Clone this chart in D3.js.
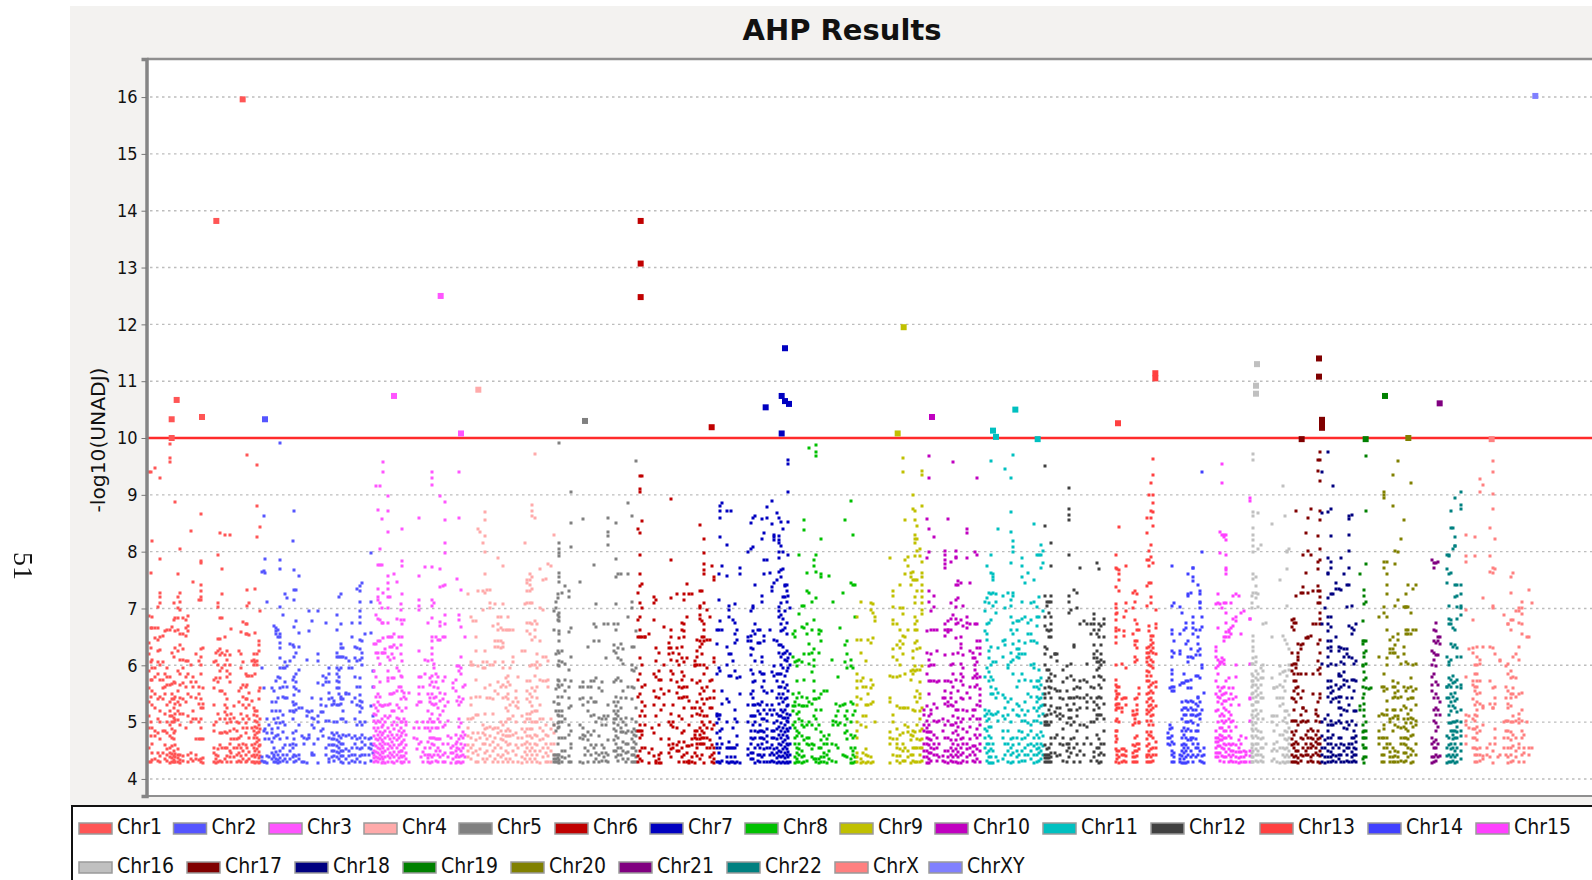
<!DOCTYPE html>
<html>
<head>
<meta charset="utf-8">
<title>AHP Results</title>
<script src="https://cdn.jsdelivr.net/npm/d3@7"></script>
<style>
	html, body { margin: 0; padding: 0; background: #fff; overflow: hidden; }
	svg { display: block; filter: blur(0.35px); }
	text { fill: #111; }
</style>
</head>
<body>
<div id="chart"></div>
<script>

var chrNames = ["Chr1","Chr2","Chr3","Chr4","Chr5","Chr6","Chr7","Chr8","Chr9","Chr10","Chr11","Chr12","Chr13","Chr14","Chr15","Chr16","Chr17","Chr18","Chr19","Chr20","Chr21","Chr22","ChrX","ChrXY"];

var chrColors = ["#ff5555","#5555ff","#ff55ff","#ffaaaa","#808080","#c00000","#0000c0","#00c000","#c0c000","#c000c0","#00c0c0","#404040","#ff4040","#4040ff","#ff40ff","#c0c0c0","#800000","#000080","#008000","#808000","#800080","#008080","#ff8080","#8080ff"];

// start of each chromosome's block on the genome axis
var chrOffset = [0,0,0,0,0,1470,1470,1470,1470,1470,1470,1470,2910,2910,2910,2910,2910,2910,2910,2910,2910,2910,2910,2910];

var genomeLength = 4386;
var threshold = 10;
var yTicks = [4,5,6,7,8,9,10,11,12,13,14,15,16];

// SNPs above the red line, drawn bigger: [chromosome index, genome position, -log10(p)]
var topHits = [
	[0,338,15.96],[0,259,13.82],[0,140,10.67],[0,125,10.33],[0,216,10.37],[0,125,10.0],
	[1,405,10.33],
	[2,792,10.74],[2,932,12.5],[2,993,10.08],
	[3,1045,10.85],
	[4,1365,10.3],
	[5,1532,13.82],[5,1532,13.07],[5,1532,12.48],[5,1745,10.19],
	[6,1965,11.58],[6,1907,10.54],[6,1955,10.74],[6,1965,10.65],[6,1977,10.6],[6,1955,10.08],
	[8,2321,11.95],[8,2303,10.08],
	[9,2406,10.37],
	[10,2589,10.13],[10,2598,10.02],[10,2656,10.5],[10,2723,9.98],
	[12,2964,10.26],[12,3076,11.14],[12,3076,11.05],
	[15,3381,11.3],[15,3378,10.92],[15,3378,10.78],
	[16,3567,11.4],[16,3567,11.08],[16,3576,10.32],[16,3576,10.24],[16,3576,10.18],[16,3515,9.98],
	[18,3765,10.74],[18,3707,9.98],
	[19,3835,10.0],
	[20,3929,10.61],
	[22,4085,9.98],
	[23,4216,16.02]
];

// small points, one list per map column: [position in block, values...]
var chr1Cols = [
	[58,4.3,4.55,4.9,5.1,5.35,5.6,5.9,6.2,6.4,6.87,9.4],
	[62,4.3,4.75,5.0,5.45,5.75,6.05,6.3,6.65,7.62,9.41],
	[67,4.34,4.45,4.62,4.9,5.3,5.55,5.75,5.95,6.1,6.65,6.85,8.19],
	[76,4.35,4.75,4.85,5.25,5.5,5.8,5.95,6.48,6.65,9.47],
	[85,4.32,4.45,4.8,5.05,5.4,5.85,6.05,6.25,6.45,6.65,7.02],
	[91,4.3,4.4,4.7,5.0,5.2,5.45,5.75,6.0,6.27,6.5,7.1,7.2,7.28,7.87,9.3],
	[99,4.45,4.85,5.4,5.6,5.75,6.05,6.52],
	[106,4.35,4.6,4.85,5.15,5.5,5.62,5.85,6.6],
	[112,4.32,4.42,4.52,4.8,5.0,5.3,5.66,5.8,5.95,6.62],
	[121,4.28,4.38,4.45,4.55,4.75,4.95,5.1,5.2,5.35,5.65,5.8,6.62,9.57,9.65,9.9],
	[126,4.3,4.36,4.44,4.58,4.72,4.88,5.0,5.1,5.4,5.5,5.67,6.22,6.68],
	[131,4.3,4.34,4.4,4.5,4.7,4.8,5.0,5.08,5.25,5.4,5.7,6.15,6.8,7.1],
	[135,4.3,4.38,4.44,4.6,4.85,5.04,5.15,5.32,5.45,5.68,6.3,6.6,6.84,8.87],
	[144,4.3,4.36,4.42,4.52,5.04,5.2,5.35,5.55,5.9,6.25,6.62,6.84,7.0,7.2,7.6],
	[150,4.28,4.34,4.42,4.95,5.15,5.3,5.42,5.65,5.85,6.1,6.35,6.55,6.98,7.12,7.28,8.05],
	[159,4.32,4.4,5.15,5.4,5.68,5.95,6.1,6.28,6.55,6.83],
	[168,4.9,5.35,5.62,5.8,6.08,6.52,6.66,6.8],
	[175,4.3,4.42,5.1,5.5,5.85,6.08,6.6,6.7,6.87],
	[183,4.35,4.45,5.0,5.45,5.7,6.0,8.36],
	[188,4.32,5.05,5.2,5.62,5.8,7.46],
	[197,4.35,4.42,4.7,5.05,5.42,5.7,6.2],
	[206,4.33,4.7,5.0,5.32,5.5,5.62,6.08,7.15],
	[213,4.3,4.35,4.7,4.9,5.05,5.25,5.4,5.85,6.0,6.15,6.28,7.15,7.2,7.3,7.42,7.8,7.83,8.67],
	[220,4.28,4.36,4.7,5.25,5.32,5.6,6.3],
	[253,4.3,4.45,4.55,4.85,4.95,5.3,5.6,5.75,6.05],
	[258,4.28,4.35,4.42,5.0,5.78,6.08,6.22],
	[265,4.3,4.4,4.52,5.15,5.7,6.0,6.25,6.47,7.03,7.1,7.95],
	[270,4.32,4.6,4.8,5.05,5.55,5.78,5.9,6.18,6.28,6.47,6.84,8.33],
	[277,4.3,4.55,4.8,5.55,5.95,6.22,6.84,7.25,7.7],
	[285,4.35,4.55,4.82,5.05,5.18,5.3,5.5,6.0,6.18,6.5,8.3],
	[292,4.3,4.4,4.55,4.8,4.98,5.12,5.25,5.4,5.8,5.9,6.1,6.25],
	[299,4.38,4.5,4.62,4.85,5.05,5.7,5.85,6.0,6.18,8.29],
	[304,4.3,4.45,4.7,5.0,5.15,6.64],
	[312,4.38,4.55,4.7,4.88,5.08,5.28],
	[320,4.3,4.42,4.55,4.7,4.85,5.0],
	[327,4.32,4.45,4.6,4.72,4.98,5.35,5.55,6.25],
	[333,4.3,4.4,4.55,4.75,5.15,5.6,5.95,6.2,6.58],
	[340,4.35,4.5,4.62,4.9,5.05,5.3,5.45,5.65,6.05,6.77],
	[348,4.3,4.42,4.6,4.8,4.98,5.25,5.4,5.62,5.85,6.55,6.72],
	[352,4.32,4.55,4.9,5.1,5.4,5.65,5.82,6.55,6.73,7.05,7.32,9.7],
	[358,4.35,4.48,4.72,5.05,5.3,5.52,5.82,6.54,7.1],
	[367,4.3,4.4,4.6,4.9,5.38,5.82,6.08],
	[372,4.3,4.42,4.55,4.72,4.85,5.12,5.25,6.0,6.1,6.2],
	[376,4.28,4.38,4.5,4.62,4.78,4.92,5.02,5.2,5.85,6.05,6.57,7.35],
	[381,4.3,4.42,4.52,4.65,4.72,4.8,4.9,5.0,5.1,5.2,6.0,6.08,6.2,8.25,8.8,9.53],
	[386,4.28,4.36,4.48,4.58,4.68,4.82,4.95,5.4,5.55,6.25,6.35,6.43],
	[391,4.3,4.4,4.6,4.88,5.05,5.6,6.95,8.43]
];
var chr2Cols = [
	[396,4.32,4.38,5.95,7.65],
	[401,4.3,4.85,5.6,7.66,8.63],
	[405,4.3,4.7,4.88,7.62,7.87],
	[411,4.28,4.4,4.8,5.05,7.12],
	[417,4.38,4.7,4.95],
	[425,4.35,4.45,4.65,4.8,4.88,5.2,5.35,5.6],
	[431,4.3,4.38,4.42,4.55,4.72,5.05,5.55,6.7],
	[437,4.3,4.35,4.48,4.75,4.98,5.2,5.35,5.72,6.55,6.6,6.65],
	[443,4.28,4.34,4.42,4.78,4.9,5.08,5.42,5.8,6.5,6.62],
	[450,4.3,4.36,4.5,4.7,4.98,5.2,5.6,5.78,5.95,6.12,6.3,6.4,6.5,6.55,7.02,7.7,7.85,9.92],
	[459,4.32,4.42,4.55,4.82,5.0,5.12,5.45,5.62,5.95,6.88],
	[465,4.35,4.6,4.95,5.42,5.7,5.95,6.05,7.25],
	[471,4.3,4.42,4.72,5.42,5.62,5.98,7.18],
	[480,4.35,4.5,4.6,5.2,6.08,6.38],
	[488,4.38,4.55,4.62,4.8,5.05,5.2,5.35,5.75,6.35,8.18],
	[493,4.3,4.42,4.7,5.18,5.3,5.48,5.62,5.8,6.15,6.32,6.68,7.15,7.32,7.67,8.72],
	[499,4.32,4.4,4.6,4.85,5.22,5.32,5.58,5.7,5.85,6.22,6.78,7.32],
	[507,4.35,4.42,4.95,5.25,5.55,5.92,6.32,6.57,7.57],
	[515,4.3,4.75,5.25],
	[522,4.3,4.62,4.72],
	[531,4.28,4.7,5.1,5.2,6.1],
	[537,4.72,4.78,5.18,6.6,6.95],
	[546,4.42,4.45,4.95,5.08,5.2,5.42,6.78],
	[552,4.42,4.62,4.9,5.05],
	[565,4.28,4.7,5.0,5.1,5.68,6.07,6.2,6.95],
	[573,4.85,5.18,5.3,5.4],
	[580,4.75,4.88,5.18,5.65,5.82],
	[589,4.42,4.55,5.02,5.28,5.7,5.78,6.75],
	[596,4.3,4.35,4.6,4.72,5.02,5.4,5.52,5.7,5.85,5.95],
	[605,4.38,4.5,4.6,4.7,4.8,5.3,5.42],
	[613,4.32,4.4,4.5,4.6,4.7,4.78,5.0,5.32,5.38],
	[620,4.38,4.48,4.58,4.68,4.8,5.0,5.3,5.6,5.72,5.85,5.95,6.15,6.22,6.63,6.88],
	[626,4.35,4.45,4.55,4.65,4.75,5.3,5.5,5.6,5.7,5.8,5.92,6.15,7.2],
	[632,4.3,4.4,4.5,4.62,4.72,5.05,5.32,5.4,5.45,5.95,6.15,6.3,6.38,6.72,7.25],
	[640,4.28,4.4,4.5,4.62,4.78,5.05,5.2,5.4,6.15,6.3],
	[649,4.35,4.52,4.75,5.0,5.5,5.52,6.12],
	[658,4.28,4.4,4.5,4.78,5.5,5.95,6.08],
	[667,4.32,4.42,4.55,4.72,5.35,5.95,6.5,6.75],
	[676,4.3,4.42,4.62,4.75,5.05,5.42,5.8,6.12,6.32],
	[682,4.35,4.55,4.7,4.95,5.3,5.62,6.08,6.3,7.35],
	[690,4.3,4.4,4.52,4.72,5.0,5.18,5.28,5.38,5.48,5.62,5.78,6.1,6.28,6.45,6.75,6.85,6.95,7.12,7.3,7.4],
	[697,4.42,4.55,4.65,4.78,4.95,5.25,5.35,6.0,6.12,6.22,6.42,7.45],
	[706,4.28,4.42,4.6,4.72,5.0,6.55],
	[716,4.42,4.55,4.7],
	[722,4.32,4.52,4.62,4.72,5.28,6.57,7.12,7.98],
	[729,4.45,4.6,5.1,5.62,5.9]
];
var chr3Cols = [
	[733,4.3,4.36,4.42,4.5,4.62,4.75,4.9,5.02,5.15,5.3,5.62,5.9,6.38],
	[738,4.32,4.38,4.48,4.58,4.7,4.85,4.98,5.12,5.25,5.45,5.8,6.22,6.38,6.88,9.15],
	[744,4.3,4.36,4.45,4.55,4.68,4.78,4.9,5.02,5.2,5.35,5.5,6.12,6.22,6.42,6.82,7.15,7.2,7.35,7.76,8.73],
	[750,4.35,4.42,4.52,4.62,4.72,4.82,5.0,5.3,5.45,5.7,6.02,6.42,6.8,7.1,7.76,8.05,9.15],
	[756,4.28,4.38,4.48,4.58,4.68,4.78,4.92,5.05,5.28,6.22,6.75,7.0,7.76,8.57],
	[760,4.3,4.35,4.45,4.55,4.65,4.8,4.95,5.28,6.22,6.48,6.75,7.28,9.4,9.57],
	[766,4.28,4.38,4.5,4.62,4.72,4.85,5.0,5.1,5.3,6.22,6.28],
	[773,4.3,4.4,4.52,4.62,4.75,4.9,5.08,5.3,5.72,5.78,5.9,6.15,6.5,6.75,7.0,7.2,7.35,7.45,7.57,8.35,8.72,8.98],
	[780,4.36,4.46,4.58,4.7,4.82,5.1,5.32,5.5,6.1,6.32,6.5,7.2],
	[786,4.3,4.42,4.55,4.65,4.78,4.95,5.2,5.5,5.78,6.2,6.32,6.5],
	[793,4.28,4.38,4.48,4.6,4.72,4.88,5.0,5.2,5.52,5.78,6.12,6.35,6.55,7.6],
	[800,4.32,4.42,4.55,4.68,4.78,4.95,5.08,5.3,5.55,5.95,6.3,6.82,7.46],
	[806,4.36,4.48,4.6,4.72,4.85,5.05,5.25,5.62,5.9,6.5],
	[812,4.3,4.4,4.5,4.62,4.75,4.9,5.0,5.4,5.62,5.82,6.2,6.35,6.8,7.08,6.98],
	[817,4.28,4.38,4.5,4.65,4.8,5.0,5.2,5.55,5.8,6.08,6.5,6.72,7.26,7.75,7.83,8.39],
	[823,4.3,4.4,4.55,4.68,4.85,5.05,5.45,5.52,6.8],
	[828,4.35,4.45,4.6,4.78,4.95,5.0,5.25,5.4],
	[837,4.3,5.52],
	[852,4.9,4.72],
	[860,4.52,4.7,5.0,5.3],
	[866,4.62,4.9,5.35,5.5,5.62,5.8,6.25,6.97,7.05,7.15,7.57,8.6],
	[872,4.38,4.65,5.35,5.8],
	[880,4.3,4.48,5.0,5.62],
	[885,4.42,4.55,4.9,5.85,6.1,7.73],
	[895,4.3,4.36,4.42,4.65,4.9,5.0,5.2,5.5,6.08,6.75],
	[900,4.28,4.42,4.55,4.72,4.85,5.05,5.35,5.42,5.65,5.78],
	[905,4.3,4.38,4.62,4.72,4.9,5.0,5.15,5.32,5.5,5.7,5.82,6.1,6.2,6.3,6.42,6.5,6.84,7.05,7.15,7.73,9.18,9.3,9.4],
	[912,4.42,4.6,4.72,5.0,5.3,5.42,5.62,5.95,6.02,7.1],
	[918,4.32,4.5,4.7,4.9,5.32,5.45,5.7,5.85,6.5],
	[925,4.3,4.42,4.55,4.7,4.9,5.05,5.25,5.6,5.8,6.45],
	[931,4.38,4.5,4.7,5.0,5.12,5.38,5.52,6.45,6.7,6.77,7.38,7.7,8.98],
	[938,4.3,4.42,4.62,4.92,5.2,5.4,5.72,6.5,7.4],
	[945,4.3,4.45,4.95,5.28,5.5,5.8,6.5,6.72,6.88,7.42,7.97,8.15,8.56,8.88],
	[955,4.38,4.62,4.75,5.02,5.35],
	[963,4.28,4.45,4.55,4.72],
	[970,4.35,4.45,4.58,5.6,5.68],
	[977,4.28,4.38,4.5,4.62,4.78,5.55,5.75],
	[982,4.3,4.42,4.55,4.65,5.38,5.98,7.52],
	[987,4.3,4.38,4.52,4.7,4.92,5.05,5.3,5.45,5.9,5.98,6.8,6.88,8.6,9.4],
	[993,4.28,4.4,4.5,4.62,4.75,4.98,5.35,5.85,5.95,6.15,6.68,7.32],
	[1000,4.3,4.42,4.55,4.72,4.82,5.4,5.62],
	[1006,4.38,4.6,4.78,5.65,6.5]
];
var chr4Cols = [
	[1015,4.38,4.5,4.6,4.75,4.9,5.05,7.25],
	[1022,4.35,4.55,4.72,5.05,5.3,5.42,6.05,6.85,6.0],
	[1030,4.45,4.6,4.8,5.08,6.0,6.78],
	[1037,4.3,4.5,4.68,5.12,5.45,5.75,6.25,6.5,6.78],
	[1043,4.3,4.42,4.8,5.12,5.98,7.3,8.39],
	[1050,4.52,4.72,5.45,8.35],
	[1060,4.35,4.62,4.8,4.95,5.95,6.05,6.98,7.3,8.15],
	[1065,4.3,4.45,4.62,4.78,4.88,5.15,5.6,5.95,6.25,7.28,7.6,8.0,8.28,8.55,8.7],
	[1072,4.35,4.5,4.7,4.9,5.42,6.05,7.32],
	[1080,4.4,4.6,4.75,4.92,5.42,5.65,6.0,7.0,7.1,7.32],
	[1090,4.3,4.5,4.65,4.88,5.15,5.4,6.0,6.7],
	[1096,4.35,4.55,4.72,4.9,5.55,6.05,6.42,6.32,7.08],
	[1105,4.3,4.42,4.6,4.8,4.9,5.5,5.7,6.32,6.42,6.62,6.72,6.85,7.88],
	[1112,4.38,4.55,4.7,4.85,5.0,5.62,6.3,6.42,6.65,6.85],
	[1120,4.3,4.42,4.68,4.78,4.95,5.42,5.65,5.95,6.05,6.32,6.4,6.62,7.08,7.75],
	[1127,4.35,4.5,4.65,4.75,4.85,5.0,5.25,5.45,5.62,5.78,6.62],
	[1133,4.3,4.45,4.6,4.75,4.88,5.05,5.2,5.4,5.5,5.7,5.82,6.62,6.85],
	[1140,4.35,4.62,4.75,4.85,5.05,5.3,5.65,5.95,6.62],
	[1148,4.3,4.5,4.78,5.1,5.35,6.05,6.15,6.62],
	[1157,4.42,4.6,4.8,5.0,5.28,5.42,5.55],
	[1165,4.3,4.55,4.72,5.25,5.35,5.8],
	[1175,4.28,4.38,4.6,4.72,4.88,5.1,6.25],
	[1185,4.35,4.48,4.62,4.82,5.0,6.25,7.08,8.15],
	[1191,4.3,4.42,4.55,4.65,4.75,4.88,5.05,5.15,5.4,5.55,5.72,6.6,6.75,7.1,7.3,7.45,7.5],
	[1200,4.35,4.5,4.62,4.75,4.88,5.05,5.15,5.35,5.5,5.72,5.98,6.55,6.75,7.1,7.3,7.42,7.5,7.6],
	[1207,4.3,4.42,4.55,4.72,4.88,5.0,5.18,5.28,5.45,5.6,6.0,6.45,6.72,7.1,7.35,7.55,8.62,8.72,8.82],
	[1214,4.35,4.5,4.62,4.78,5.0,5.2,5.55,5.82,6.0,6.5,6.62,6.78,8.6,9.72],
	[1222,4.3,4.42,4.6,4.75,5.0,5.2,5.42,5.62,5.95,6.05,6.2,6.72],
	[1229,4.28,4.5,4.68,4.9,5.05,5.3,5.75,6.0,6.42,7.0,7.7],
	[1238,4.38,4.55,4.7,4.85,5.05,5.72,6.15,6.98,7.5],
	[1247,4.3,4.45,4.62,4.78,4.95,5.72,6.15,7.52],
	[1255,4.3,4.4,4.55,4.75,5.62,5.75,6.08,7.78],
	[1263,4.3,4.5,4.62,4.88,5.05,7.75],
	[1272,4.42,4.62,4.8,4.95,8.29]
];
var chr5Cols = [
	[1272,4.3,4.35,4.42,4.95,5.35,6.62,6.95],
	[1278,4.3,4.35,4.42,4.85,5.2,5.58,6.2,7.0,7.12],
	[1283,4.3,4.36,4.42,4.62,4.9,4.98,5.12,5.32,5.45,5.65,5.75,6.0,6.25,6.8,6.88,7.18,7.25],
	[1288,4.28,4.34,4.42,4.72,4.92,5.0,5.1,5.2,5.32,5.62,5.72,5.98,6.08,6.22,6.42,6.55,6.6,6.78,6.85,6.92,7.55,7.62,7.46,7.92,7.97,8.05,8.15,9.92],
	[1297,4.3,4.38,4.5,4.72,5.0,5.1,5.2,5.45,5.65,6.05,6.25,7.28],
	[1306,4.36,4.5,4.72,5.05,5.55,5.75,6.02,7.4],
	[1316,4.3,4.4,4.78,4.95,5.25,5.42,5.62,5.92,6.58,7.2,7.3],
	[1322,4.3,4.55,4.62,4.85,5.28,5.72,6.15,6.65,8.08,8.5,9.05],
	[1350,4.3,4.72,4.95,5.4,5.62,7.46],
	[1358,4.28,4.7,4.78,4.9,5.3,5.42,5.62,5.7,8.57],
	[1365,4.42,4.55,4.75],
	[1375,4.3,4.5,4.68,4.82,5.2,5.35,5.62,6.33],
	[1384,4.42,4.6,4.78,5.1,5.42,5.62,5.72],
	[1392,4.3,4.55,4.85,5.12,5.35,5.72,6.42,6.72,7.77],
	[1398,4.35,4.45,4.6,5.0,5.35,5.78,6.68,7.08],
	[1408,4.3,4.42,4.75,5.08,5.6,6.42],
	[1415,4.32,4.45,4.6,4.95,5.05,5.55,5.7],
	[1422,4.38,4.55,5.1,6.72],
	[1428,4.32,4.45,4.95,5.05,6.12],
	[1434,4.3,4.42,4.68,5.1,5.3,6.72,8.12,8.27,8.35,8.6],
	[1452,4.5,4.68,4.88,4.98,5.05,5.2,5.35,5.7,6.25,6.35,6.72],
	[1458,4.38,4.5,4.62,4.75,4.85,5.05,5.15,5.28,5.45,5.75,6.22,6.62,7.08,7.56,7.87,8.5],
	[1465,4.32,4.42,4.55,4.72,4.95,5.1,5.2,5.35,5.78,6.12,6.3,6.72,7.6],
	[1472,4.42,4.55,4.82,4.9,5.05,5.25,5.42,5.72,6.1,6.38,7.6],
	[1480,4.35,4.5,4.65,4.82,5.0,5.55,6.28,6.02],
	[1487,4.3,4.45,4.62,4.8,4.95,5.08,5.42],
	[1495,4.35,4.48,4.62,4.85,5.62,6.85,7.6,8.85],
	[1505,4.3,4.42,4.55,4.7,4.82,5.05,5.4,5.62,5.92,6.0,6.32,7.0,7.12,8.63],
	[1512,4.3,4.42,4.55,4.65,4.78,4.88,5.6,5.9,6.32],
	[1519,4.3,4.38,4.5,4.62,4.75,4.85,5.0,5.25,5.95,6.6,9.6]
];
var chr6Cols = [
	[53,4.3,4.4,4.85,5.45,5.75,6.5,6.8,7.27,8.4],
	[59,4.35,4.5,4.72,4.85,4.95,5.1,5.5,5.85,6.12,6.5,6.62,6.85,7.1,7.4,7.6,7.95,8.32,9.05,9.1,9.33],
	[66,4.32,4.55,4.78,4.85,5.2,5.35,5.62,6.0,6.5,7.0,7.43,8.54,9.33],
	[75,4.55,4.95,5.1,5.28,5.65,6.5,6.5],
	[88,4.28,4.45,6.55],
	[97,4.52,4.9],
	[103,4.4,4.8,5.3,5.55,5.85,6.8,7.1,7.2],
	[108,4.28,4.32,5.1,5.45,5.8,6.08,6.3,7.15],
	[116,4.28,4.35,4.42,4.95,5.42,5.75,5.9,6.22],
	[122,4.28,4.45,4.7,5.22,5.58,5.75],
	[131,5.3,5.5,6.0,6.68],
	[146,4.45,4.6,4.7,5.0,5.55,6.3,6.2,6.4],
	[152,4.38,4.52,4.95,5.15,5.75,5.9,6.1,6.3,6.5,6.62,7.18,7.85,8.92],
	[158,4.55,4.62,4.92,5.0,5.3,5.85,6.22],
	[170,4.5,4.6,4.9,5.52,5.7,6.08,6.3,7.25],
	[176,4.3,4.5,4.65,5.1,5.42,5.62,6.0,6.2,6.48],
	[185,4.38,4.55,4.8,5.05,5.42,5.6,5.75,5.88,6.12,6.32,6.62,6.75],
	[192,4.3,4.42,4.65,4.85,5.25,5.45,5.62,5.82,6.05,6.5,6.6,6.72,7.15,7.25],
	[200,4.3,4.45,4.58,5.45,5.62,6.12,6.85,7.43],
	[207,4.28,4.32,4.58,4.95,5.38,7.25],
	[216,4.3,4.38,4.6,4.7,5.1,5.25,5.75,7.25],
	[225,4.28,4.45,4.72,4.78,4.85,5.25,5.98,6.0,6.08],
	[232,4.4,4.55,4.62,4.7,4.85,5.15,5.35,5.68,6.0,6.15,6.25,6.45],
	[240,4.35,4.62,4.7,4.78,4.9,5.12,5.25,5.5,5.72,6.0,6.32,6.42,6.82,6.88,7.0,7.05,7.3,8.47],
	[247,4.42,4.62,4.72,4.85,5.0,5.2,5.4,5.6,6.2,6.38,6.5,6.78,7.3],
	[253,4.28,4.62,4.72,4.8,4.95,5.1,5.32,5.55,5.85,6.0,6.42,6.5,6.62,6.72,7.1,7.6,7.68,7.78,7.98,8.23],
	[262,4.55,4.72,4.9,5.1,5.4,5.62,5.95,6.45,6.98],
	[270,4.38,4.55,4.68,5.0,5.25,5.42,5.72,6.45,6.85],
	[276,4.3,4.42,4.6,4.88,5.25,5.75,7.75],
	[282,4.28,4.35,4.45,4.55,4.95,5.42,5.55,6.05,6.12,7.5,7.55]
];
var chr7Cols = [
	[290,4.3,4.55,4.62,4.8,4.98,5.1,5.15,5.85,6.38,6.62],
	[296,4.3,4.45,5.12,5.05,5.95,6.62,7.15,7.6],
	[301,4.28,4.55,4.85,4.72,5.12,5.9,6.78,8.25,8.72,8.6,8.8],
	[306,4.32,4.62,4.88,5.32,5.55,6.62,7.75,8.85],
	[320,4.3,4.38,4.55,5.0,5.4,6.0,6.32,7.58,8.12,8.72],
	[326,4.28,4.55,4.65,5.35,5.82,6.2,6.85,6.98,7.05],
	[332,4.3,4.38,4.55,5.82,6.2,8.72],
	[340,4.3,4.55,4.9,6.08,6.8],
	[346,4.28,4.38,4.55,5.05,5.22,5.9,6.4,6.55,6.75,7.08],
	[352,4.3,4.6,4.75,5.0,5.78,6.45,6.62],
	[359,4.28,5.5,5.8,7.6,7.72],
	[385,4.42,4.52,5.0,5.3,6.42,6.5,8.0],
	[392,4.35,4.45,4.62,4.72,4.85,5.1,5.5,5.92,6.18,6.3,6.42,6.52,6.95,8.05,8.5],
	[398,4.35,4.45,4.7,4.95,5.1,5.3,5.42,5.55,5.7,5.85,6.28,6.6,7.0,7.05,8.08,8.6],
	[405,4.28,4.55,4.72,4.85,5.0,5.1,5.3,5.72,6.08,6.55,6.72,7.42,8.62],
	[413,4.32,4.42,4.6,4.82,5.2,5.32,6.4,6.62],
	[420,4.3,4.42,4.55,4.72,4.85,4.95,5.15,5.3,5.88,6.4,6.62],
	[427,4.38,4.62,4.72,4.85,5.05,5.35,5.62,5.85,6.05,6.15,7.12,7.22,8.23,8.58],
	[433,4.3,4.42,4.52,4.7,4.82,5.05,5.22,5.55,5.72,5.85,6.52,6.42,7.6,7.85,8.32],
	[441,4.3,4.55,4.65,4.75,4.88,5.02,5.15,5.3,5.52,7.85,8.6,8.78],
	[450,4.3,4.42,4.55,5.22,6.62,7.62],
	[456,4.32,4.45,4.6,4.72,4.85,5.12,5.3,5.55,5.88,7.3,7.38,8.48,8.9],
	[463,4.3,4.42,4.52,4.72,4.85,4.98,5.22,5.82,5.98,6.45,7.45,8.25,8.3,8.2],
	[470,4.28,4.36,4.45,4.55,4.7,4.88,5.02,5.15,5.42,5.72,5.85,6.42,7.5,8.68],
	[476,4.3,4.4,4.5,4.62,4.78,4.92,5.1,5.32,5.5,5.62,5.85,6.22,6.35,6.85,6.95,7.02,8.28,8.6,8.2,8.15,8.0,7.88,7.65],
	[482,4.28,4.38,4.48,4.6,4.72,4.85,4.98,5.1,5.22,5.42,5.62,5.85,6.0,6.15,6.35,6.6,6.72,6.88,7.1,7.55,7.68,8.1,8.52],
	[488,4.3,4.4,4.52,4.65,4.78,4.9,5.08,5.18,5.35,5.5,5.7,5.95,6.2,6.32,6.62,6.82,7.2,7.7,8.0,8.4],
	[494,4.28,4.36,4.46,4.56,4.68,4.82,4.95,5.08,5.22,5.4,5.6,5.82,6.1,6.22,6.65,6.95,7.2,7.4,7.42],
	[500,4.3,4.42,4.52,4.62,4.75,4.88,5.02,5.15,5.28,5.42,5.65,5.9,6.08,6.25,6.55,6.75,7.12,7.3,7.42],
	[505,4.28,4.38,4.48,4.6,4.72,4.85,5.0,5.08,5.3,5.55,5.95,6.12,7.22,7.95,8.52,9.05,9.55,9.62],
	[510,4.3,4.42,4.62,4.9,5.12,6.2,6.0,7.0]
];
var chr8Cols = [
	[519,4.95,5.2,5.28,5.5,6.15,6.55],
	[525,4.28,4.38,4.62,4.72,4.9,5.0,5.28,5.35,6.05,6.5,6.6],
	[532,4.3,4.35,4.45,4.55,4.75,4.85,5.15,5.42,5.72,5.98,6.08],
	[538,4.3,4.42,4.52,4.62,4.8,5.05,5.18,5.3,5.52,6.1,6.9,7.95],
	[546,4.28,4.38,4.5,4.75,4.95,5.02,5.28,5.45,6.05,6.68,7.05],
	[552,4.3,4.4,4.68,4.92,5.28,5.75,6.2,6.65,7.05,8.38,8.56],
	[560,4.32,4.62,4.72,4.95,5.28,5.42,6.55,6.72,7.3,7.62],
	[567,4.6,4.72,5.0,5.35,6.02,6.2,6.38,7.28,9.82],
	[575,4.38,4.52,4.62,4.95,5.32,5.88,6.22,6.62,7.12],
	[582,4.35,4.6,5.1,5.4,5.55,5.72,5.98,6.1,6.28,6.8,7.75,7.85],
	[587,4.3,4.35,4.88,5.05,5.22,5.4,7.18,7.65,7.95,9.68,9.75,9.88],
	[597,4.28,4.35,4.55,4.95,5.42,6.22,6.55,6.62],
	[603,4.3,4.38,4.55,4.68,4.82,5.22,5.5,6.42,6.6,7.55,7.6,8.22],
	[612,4.3,4.38,4.45,4.62,4.75,5.55],
	[620,4.28,4.42,4.62,4.7,5.55],
	[628,4.35,4.5,4.78,7.58],
	[635,4.32,4.62,6.1],
	[640,4.95,5.02,7.12],
	[648,4.3,4.6,5.0,5.1,5.32],
	[654,4.55,4.95,5.2,5.8],
	[660,4.98,5.28,6.65],
	[668,4.42,5.3,7.28],
	[675,4.4,4.8,4.95,5.1,5.32,6.05,6.35,8.55],
	[682,4.38,4.7,4.85,5.05,5.2,5.95,6.2,6.42],
	[692,4.28,4.35,4.55,4.78,5.0,5.35,5.98,6.1,7.45,8.9],
	[698,4.28,4.42,4.5,4.72,5.12,5.32,5.95,7.42,8.3],
	[704,4.3,4.38,4.55,4.75,5.2,6.85,7.42]
];
var chr9Cols = [
	[712,4.3,4.38,4.45,4.72,4.85,5.0,5.3,5.45,5.6,5.72,5.85,6.45,6.85],
	[722,4.28,4.35,4.95,5.4,5.72,6.22,6.45,7.12],
	[730,4.3,4.45,5.1,5.62,5.78],
	[738,4.28,4.42,4.52,4.92,5.1,5.3,5.62,6.08],
	[745,4.3,4.4,5.3,5.5,6.45],
	[752,4.28,4.38,5.32,5.6,5.75,6.4,6.98,7.1],
	[760,4.3,5.35,5.65,6.48,6.92,7.08],
	[766,5.0,6.78,6.85],
	[810,4.28,4.62,4.72,4.82,5.35,5.42,5.82,7.88],
	[818,4.42,4.7,5.0,5.12,5.8,6.15,6.28,6.8,6.72,7.02,7.22,7.3],
	[830,4.32,4.4,4.55,4.62,4.7,4.88,5.28,5.8,6.1,6.35,6.72],
	[840,4.28,4.4,4.52,4.78,5.25,5.82,6.0,6.3,6.42,6.62,7.0,7.42],
	[848,4.32,4.5,4.62,4.8,5.25,6.2,6.38,6.52,6.9,9.4,9.65,7.0],
	[856,4.32,4.55,4.95,5.25,5.85,6.5,7.6,8.55,7.85],
	[864,4.38,4.5,4.82,4.92,5.25,6.62,7.75,7.9],
	[872,4.28,4.42,4.68,4.78,5.75,5.9,7.55,7.62,7.42],
	[880,4.32,4.42,4.55,4.75,4.85,5.22,5.85,5.92,6.12,6.25,7.65,7.5,8.75,9.0],
	[886,4.3,4.55,4.82,5.2,5.45,5.9,5.98,6.4,6.62,6.72,6.85,7.2,7.1,7.5,7.92,8.15,8.22,8.3,8.55,8.72],
	[892,4.3,4.55,4.7,4.95,5.35,5.55,5.92,6.28,6.42,6.62,6.78,7.3,7.5,8.02,8.22,8.45],
	[900,4.3,4.42,4.55,4.68,4.85,5.05,5.2,5.42,5.5,5.7,5.92,6.3,7.92,8.05],
	[907,4.32,4.55,4.7,4.88,5.25,5.98,6.9,6.98,7.1,7.2,7.3,7.42,7.55,7.62,7.82,8.8,9.35,9.42]
];
var chr10Cols = [
	[912,4.38,4.5,4.62,4.85,4.95,5.12,5.22],
	[921,4.28,4.38,4.5,4.62,4.72,4.82,4.9,5.02,5.28,5.85,6.22,6.6,7.88,8.58],
	[927,4.28,4.35,4.45,4.6,4.7,4.82,4.95,5.1,5.5,5.72,5.98,6.1,7.3,7.12,8.0,8.4,9.68,9.3],
	[934,4.32,4.45,4.55,4.68,4.82,5.15,5.22,5.72,6.0,6.2,6.62,6.95],
	[942,4.42,4.52,4.62,4.78,5.02,5.32,5.72,6.0,6.62,7.22,7.02,8.25],
	[950,4.32,4.42,4.55,4.72,5.0,5.25,5.7,6.25,6.62],
	[957,4.38,4.62,5.02,5.72],
	[968,4.32,4.4,4.85,5.05,5.42],
	[975,4.3,4.5,4.72,4.95,5.32,5.42,5.55,5.72,6.18,6.52,6.62,6.72,7.72,7.78,7.85,8.02,7.95],
	[984,4.28,4.38,4.5,4.72,5.02,5.28,5.35,5.72,6.58,6.62,6.78,6.62,8.58],
	[992,4.32,4.42,4.55,4.68,4.95,5.3,5.42,5.52,5.7,6.0,6.82,6.62,7.82,7.1],
	[1000,4.3,4.38,4.5,4.62,4.8,4.95,5.1,5.28,5.62,5.85,6.2,6.88,6.02,9.58],
	[1008,4.3,4.42,4.52,4.68,4.85,4.98,5.22,5.35,5.75,6.48,6.72,6.82,7.02,7.15,7.42,7.9,7.88,8.02],
	[1015,4.28,4.38,4.48,4.6,4.78,4.92,5.08,5.22,5.55,6.22,6.75,7.18,7.42,7.48],
	[1024,4.28,4.42,4.55,4.7,5.0,5.42,5.72,5.85,6.02,6.3,6.38,6.5,6.8,7.45],
	[1030,4.32,4.45,4.62,4.72,4.88,5.05,5.22,5.4,5.65,5.8,5.95,6.18,6.7,7.05],
	[1040,4.3,4.38,4.52,4.62,4.82,5.2,5.52,6.65,6.75,6.85,7.88,8.32,8.4],
	[1050,4.42,4.55,4.7,4.92,5.05,5.42,5.62,6.25,6.72,7.45],
	[1058,4.32,4.48,4.58,5.1,5.22,5.78,6.12,6.22],
	[1066,4.3,4.42,4.58,4.78,5.22,5.62,5.82,5.92,6.0,6.12,6.72,8.0],
	[1072,4.35,4.52,4.72,4.88,5.05,5.3,5.65,5.78,5.85,6.05,6.3,6.42,6.72,7.95,9.3],
	[1081,4.3,4.5,4.62,4.78,4.95,5.05,5.28,5.38,5.48,5.58,5.8,6.2,6.3,6.42]
];
var chr11Cols = [
	[1095,4.55,4.72,4.88,5.1,5.22,5.8,6.6,7.12,6.95],
	[1101,4.32,4.45,4.62,4.85,5.02,5.15,5.95,6.45,6.55,7.18,7.75,6.72],
	[1108,4.28,4.38,4.5,4.62,4.75,4.92,5.05,5.2,5.72,5.88,6.12,6.25,6.75,7.28,7.1],
	[1114,4.28,4.38,4.52,4.72,4.92,5.15,5.5,5.62,5.8,6.0,6.32,6.8,7.25,7.62,7.95,9.6],
	[1120,4.28,4.5,4.62,5.12,5.5,5.75,6.05,7.05,7.28,7.5,7.6,7.55],
	[1128,4.38,5.15,5.42,5.58,6.05,6.92,7.25,7.12],
	[1135,4.32,5.02,5.18,5.52,6.3,8.4],
	[1148,4.35,4.72,4.85,5.1,5.48,6.15,6.42,7.22],
	[1155,4.42,4.62,5.05,5.25,5.42,6.45,6.35,9.45,7.0],
	[1165,4.3,4.5,4.62,4.85,5.12,5.35,6.0,5.95,7.28],
	[1172,4.28,4.42,4.55,4.7,5.0,5.4,6.05,6.22,6.62,6.85,7.05,7.15,7.8,8.7,8.35,9.3],
	[1180,4.3,4.45,4.6,4.72,5.22,5.85,6.1,6.38,6.55,6.75,7.28,7.22,8.0,8.08,8.18,9.7],
	[1190,4.38,4.5,4.72,5.12,5.32,5.62,6.15,6.28,6.62,6.78],
	[1198,4.3,4.42,4.62,4.85,5.1,5.28,5.72,6.12,6.2,6.28,6.78,6.42],
	[1207,4.32,4.5,4.7,4.82,5.02,5.22,5.85,6.2,6.82,7.12,7.88,7.75,7.55],
	[1215,4.32,4.42,4.55,4.72,5.02,5.12,5.35,5.75,6.2,6.4,6.85,7.45],
	[1225,4.42,4.6,4.78,4.98,5.2,5.5,6.55,6.75,7.62],
	[1232,4.35,4.5,4.62,4.85,4.95,5.45,5.72,6.0,6.42,6.55,6.8,7.1],
	[1243,4.28,4.42,4.58,4.72,5.02,5.25,5.62,5.95,6.02,6.42,7.12,7.5,8.48],
	[1250,4.3,4.42,4.52,4.62,4.78,5.02,5.2,5.35,5.45,5.62,5.72,6.4,6.7,6.85,7.02,7.95],
	[1256,4.32,4.45,4.55,4.72,5.1,5.25,5.4,5.58,5.72,5.92,6.85,7.2,7.95],
	[1262,4.35,4.5,4.62,4.82,4.98,5.28,5.42,5.65,5.78,7.95,8.12,7.72],
	[1268,4.42,4.58,4.75,5.15,5.3,5.5,6.95,8.02,7.8]
];
var chr12Cols = [
	[1274,4.3,4.36,4.42,4.6,4.95,5.0,5.1,5.3,5.42,5.5,5.6,6.0,6.2,6.32,6.85,6.7,7.22,8.45,9.5],
	[1280,4.3,4.36,4.42,4.52,4.95,5.0,5.12,5.72,5.92,6.28,6.62,7.05,7.12],
	[1286,4.3,4.36,4.42,4.55,4.95,5.22,5.52,5.62,5.78,5.92,6.5,6.6,6.92,7.12],
	[1293,4.3,4.38,4.45,4.62,4.72,5.0,5.15,5.28,5.42,5.6,5.72,5.85,6.15,6.5,6.62,6.72,6.85,7.22,7.12,7.75,8.15],
	[1305,4.45,4.72,5.18,5.58,5.82,6.2,6.2],
	[1312,4.4,4.78,5.1,5.25,5.55,6.2,6.08],
	[1320,4.42,4.62,5.05,5.15,5.25,5.42,5.55],
	[1330,4.32,4.6,4.72,4.88,5.1,5.4,5.7,5.92],
	[1340,4.3,4.5,4.62,4.98,5.3,5.55,5.78,5.98],
	[1347,4.38,4.55,4.62,5.08,5.22,5.42,6.92,7.12,7.22,7.95,8.55,8.65,8.75,9.12],
	[1354,4.45,4.7,4.95,5.08,5.22,5.42,5.82,6.02,6.98],
	[1362,4.3,4.55,4.72,5.0,5.32,5.42,5.58,5.75,6.35,6.32,7.32],
	[1372,4.42,4.62,4.85,5.1,5.22,5.45,5.62,7.0,7.28],
	[1381,4.3,4.5,4.95,5.25,5.42,5.6,5.72,6.72,7.72],
	[1392,4.42,4.62,4.95,5.42,5.75,6.78],
	[1402,4.72,4.92,5.25,5.35,5.48,5.7,6.02,6.72],
	[1412,4.32,4.62,5.0,5.42,5.62,6.72,6.55],
	[1421,4.38,4.48,5.0,5.22,5.35,5.6,5.8,6.12,6.2,6.35,6.62,6.72,6.9,6.82],
	[1430,4.32,4.55,4.78,5.05,5.12,5.3,5.42,5.92,6.05,6.12,6.25,6.55,7.8],
	[1438,4.28,4.42,4.55,4.7,5.12,5.25,5.45,5.65,5.82,5.95,6.05,6.5,6.62,6.72,7.7],
	[1444,4.3,4.45,4.62,5.12,5.42,5.6,5.8,6.0,6.1,6.2,6.35,6.7],
	[1453,4.42,4.62,4.85,5.05,5.32,5.75,6.05,6.5,6.82,6.72]
];
var chr13Cols = [
	[47,4.3,4.52,4.65,4.75,4.85,5.02,5.22,5.3,5.4,5.55,5.65,5.75,6.0,6.4,6.5,6.6,6.65,6.8,6.9,7.0,7.08,7.38,7.72,7.95],
	[52,4.35,4.42,4.5,4.7,4.85,5.05,5.25,5.32,5.45,5.5,5.62,6.92,7.7],
	[58,4.28,4.38,4.5,5.0,5.25,5.32,5.5,5.62,6.62,7.3,7.5,7.6,7.68,8.43],
	[66,4.3,4.42,4.52,5.25,5.18,5.4,6.02],
	[72,4.32,4.42,4.52,5.42,6.52,6.6,6.85],
	[78,4.3,4.4,4.5,5.3,5.42,7.1,6.95,7.75,5.95],
	[100,4.3,4.38,4.45,4.6,4.95,5.12,5.2,6.55,7.0,7.28],
	[106,4.3,4.38,4.5,4.58,4.72,4.98,5.05,5.12,5.4,6.05,6.15,6.35,6.42,6.8,7.12,7.3],
	[111,4.3,4.4,4.5,4.62,4.75,5.15,5.3,5.22,5.42,6.1,6.3,6.42,6.62,6.72,7.25],
	[116,4.52,4.62,4.98,5.0,6.62,5.6,5.5],
	[140,4.3,4.38,4.42,4.58,4.7,4.82,5.02,5.15,5.22,5.35,5.5,5.72,5.82,5.9,6.05,6.12,6.22,6.3,7.05,7.4,7.85,8.32,8.6],
	[146,4.3,4.42,4.5,4.62,4.78,4.95,5.18,5.28,5.4,5.52,5.62,5.72,5.88,6.0,6.15,6.22,6.32,6.6,6.7,7.45,7.85,7.75,8.02,9.0],
	[153,4.3,4.38,4.52,4.75,4.82,5.02,5.1,5.22,5.3,5.42,5.55,5.65,5.82,5.98,6.1,6.25,6.35,6.45,6.52,7.1,7.2,7.45,7.9,8.12,8.72,8.6,9.2],
	[160,4.32,4.42,4.55,4.72,4.95,5.12,5.25,5.38,5.52,5.68,5.95,6.05,6.22,6.3,6.4,6.52,7.8,8.45,8.7,8.85,9.0,9.35,9.63],
	[168,4.42,4.55,4.65,5.28,5.62,5.7,6.2,6.65,6.72,6.98]
];
var chr14Cols = [
	[203,4.62,4.72,4.8],
	[210,4.6,4.72,4.88,4.95,5.6],
	[216,4.3,4.42,4.5,4.65,4.75,4.9,5.55,5.62,5.75,5.85,5.92,6.15,6.25,6.55,6.62,7.05,7.75],
	[222,4.3,4.38,4.45,4.62,7.1,5.55,5.62,6.42,6.22],
	[241,4.3,4.35,4.42,5.65,6.55,6.2,6.25,7.02],
	[247,4.28,4.4,4.5,4.6,4.72,4.85,5.05,5.22,5.35,5.68,6.92],
	[253,4.28,4.35,4.45,4.55,4.62,4.78,4.9,5.12,5.25,5.68,5.85,6.62],
	[258,4.28,4.38,4.5,4.6,4.72,4.85,5.0,5.12,5.25,5.38,5.72,6.75,6.65,6.38],
	[265,4.3,4.42,4.55,4.68,4.88,5.0,5.22,5.35,5.6,5.72,6.15,6.05,6.42,7.6,7.25,7.22],
	[272,4.38,4.5,4.68,4.72,4.85,5.02,5.12,5.25,5.38,5.6,5.75,6.28,6.15,7.28],
	[280,4.3,4.42,4.62,4.72,4.98,5.12,5.22,5.35,6.12,6.55,6.65,6.75,6.85,7.55,7.48,7.72,7.72],
	[287,4.38,4.55,4.7,4.85,5.1,5.22,5.32,5.82,6.18,6.62],
	[295,4.42,4.55,4.62,4.85,4.95,5.12,5.28,5.42,5.45,5.82,6.25,6.38,6.5,7.42],
	[300,4.32,4.5,5.05,5.15,5.35,5.78,6.18,6.28,6.62,7.25,7.12,7.1,7.3,7.0],
	[305,4.3,4.4,5.22,5.95,6.85,6.68,6.0,8.0,9.4],
	[313,4.28,4.42,4.55,5.52]
];
var chr15Cols = [
	[348,4.38,4.45,4.55,4.65,4.72,4.85,5.2,5.5,5.72,5.95,6.15,6.25,6.32,7.08],
	[354,4.38,4.45,4.58,4.65,4.72,5.0,5.22,5.35,5.45,5.62,5.85,5.98,6.1,6.65,7.25,7.1],
	[360,4.32,4.45,4.58,4.68,4.78,4.9,5.1,5.42,5.55,6.05,6.02,7.08,7.98,8.35],
	[367,4.4,4.55,4.68,4.75,4.9,5.02,5.15,5.32,5.48,5.6,6.12,6.05,7.0,8.3,9.2,9.55],
	[373,4.3,4.38,4.52,4.62,4.72,4.85,4.98,5.1,5.25,5.38,5.5,5.62,6.1,6.02,6.42,6.5,7.1,8.25,8.3],
	[378,4.38,4.48,4.6,4.72,4.85,5.02,5.22,5.38,5.52,5.72,6.5,6.58,6.75,7.6,7.68,7.72,6.92,7.1,7.95,8.3,8.2],
	[386,4.3,4.42,4.52,4.62,4.75,4.92,5.05,5.18,5.4,5.6,5.78,6.5,6.58,6.62],
	[393,4.32,4.38,4.5,4.6,4.72,4.85,5.0,5.12,5.3,5.5,6.55,6.65,7.1],
	[400,4.3,4.42,4.5,4.62,5.02,5.4,5.6,6.82,6.7,7.22],
	[408,4.3,4.38,4.48,4.6,4.92,5.45,5.8,6.0,6.85,6.78,7.25],
	[416,4.28,4.36,4.48,4.55,4.68,5.3,7.22],
	[424,4.3,4.38,4.48,4.62,4.75,6.55,6.92],
	[431,4.3,4.38,4.5,6.95],
	[438,4.3,4.42,4.48,4.72],
	[449,4.3,4.4,4.5,5.4,5.42,5.02,6.02,6.82,6.82,8.9,8.95]
];
var chr16Cols = [
	[455,4.3,4.38,4.45,4.55,4.62,4.75,4.88,5.0,5.12,5.3,5.5,5.62,5.72,5.85,6.02,7.0,7.1,7.22],
	[460,4.3,4.38,4.5,4.6,4.72,4.85,4.95,5.08,5.2,5.3,5.42,5.52,5.65,5.72,5.82,6.02,6.12,6.25,6.32,6.42,6.52,7.28,7.52,7.6,8.0,8.1,8.2,8.3,8.42,8.62,8.7,9.72,9.62],
	[467,4.32,4.42,4.52,4.62,4.75,4.88,4.98,5.1,5.22,5.35,5.45,5.55,5.65,5.78,5.9,6.05,6.15,7.28,7.18,7.4,7.55],
	[475,4.3,4.42,4.5,4.62,4.72,4.85,5.05,5.15,5.35,5.48,5.6,5.75,5.85,7.02,7.25,8.05,8.68],
	[482,4.32,4.42,4.55,4.7,4.82,5.2,5.42,5.52,5.65,5.78,5.95,8.12],
	[490,4.3,4.38,4.55,4.72,5.05,5.42,5.78,5.9,6.0,6.72],
	[497,4.62,6.75],
	[516,4.32,4.5,5.0,5.1,5.78,6.5,8.48],
	[523,4.35,4.52,4.62,4.85,5.1,5.6,5.6],
	[532,4.3,4.5,4.65,4.95,5.1,5.42,5.62],
	[541,4.28,4.55,4.78,5.28,5.42,5.65,5.85,5.98,7.5],
	[548,4.3,4.42,4.55,4.78,5.02,5.32,5.42,5.62,5.88,6.52,9.15],
	[555,4.28,4.38,4.52,4.7,4.85,5.08,5.2,5.55,5.72,5.9,6.45,8.62],
	[562,4.3,4.42,4.55,4.68,4.82,4.98,5.2,5.82,6.38,7.7,8.0,8.02,7.05],
	[568,4.3,4.38,4.5,4.62,4.72,4.9,5.12,5.92,6.28,6.0,8.05]
];
var chr17Cols = [
	[576,4.3,4.42,4.6,4.7,4.82,5.02,5.42,5.9,6.0,6.22,6.68,6.8],
	[582,4.3,4.38,4.55,4.62,4.78,5.02,5.22,5.4,5.55,5.72,5.85,6.02,6.75,6.62,6.82],
	[588,4.3,4.4,4.5,4.65,4.85,5.02,5.35,5.6,5.72,5.95,6.02,6.75,7.22,8.72],
	[595,4.28,4.36,4.5,4.62,4.95,5.5,5.62,5.85,6.1,6.15,6.22,6.38],
	[604,4.32,4.42,4.72,5.0,5.12,5.42,5.85,6.28,7.28,6.35],
	[610,4.4,4.55,4.7,5.02,5.25,5.25,5.55,6.38,7.38,7.95,7.28],
	[618,4.42,4.5,4.62,4.78,5.0,5.2,5.85,6.48,7.62,8.32],
	[625,4.3,4.42,4.55,4.72,4.85,5.02,6.48,6.5,7.28,8.6,8.02],
	[632,4.32,4.38,4.55,4.62,4.72,4.88,6.52,7.95,8.75],
	[640,4.3,4.42,4.58,4.7,4.85,5.5,5.85,6.72,7.3],
	[648,4.45,4.55,4.65,4.78,5.15,5.02,5.22,6.72],
	[653,4.3,4.42,4.62,4.7,4.85,5.1,5.35,5.92,6.08,6.38,7.1,7.3,7.4,7.7,7.82,8.28,9.42,9.62],
	[660,4.28,4.4,4.5,4.62,4.72,5.0,5.5,5.42,5.85,5.95,6.22,6.45,6.72,6.82,6.92,7.1,7.2,7.3,7.85,8.05,8.55,8.72,9.25,9.62,9.75]
];
var chr18Cols = [
	[666,4.3,4.42,4.55,4.75,5.0,6.02,6.72,9.4,8.68],
	[675,4.28,4.38,4.55,4.68,5.05,7.0],
	[685,4.3,4.38,4.5,4.62,4.72,4.85,4.95,5.12,5.45,5.6,5.72,5.98,6.15,6.3,6.42,6.6,6.72,6.85,7.18,7.6,7.62,7.88,8.7,9.75],
	[692,4.3,4.38,4.48,4.62,4.72,4.95,5.02,5.35,5.52,5.62,5.72,6.02,6.25,6.32,6.42,6.68,6.85,7.25,7.72,7.82,8.28,8.75],
	[700,4.32,4.42,4.55,4.78,4.95,5.4,5.55,7.25,9.15],
	[708,4.3,4.4,4.6,4.98,5.42,5.65,7.45,6.0,6.5,7.35],
	[716,4.35,4.42,4.55,4.72,5.02,5.25,5.35,5.45,5.58,5.82,5.85,6.25,6.32,7.35],
	[724,4.3,4.42,4.62,4.72,4.98,5.12,5.25,5.45,5.62,5.82,6.05,6.3,7.32,7.88],
	[732,4.3,4.5,4.6,4.9,5.22,5.65,5.75,5.88,6.02,6.28,7.6,6.15],
	[740,4.32,4.42,4.55,4.88,5.0,5.2,5.42,5.72,6.28,6.2,7.42,7.02],
	[748,4.3,4.55,4.62,4.95,5.3,5.62,6.15,6.7,7.42,7.72,8.3,8.62,8.58,8.02],
	[755,4.3,4.38,4.48,4.62,4.72,5.02,5.42,5.75,6.12,6.55,6.65,7.05,8.65],
	[762,4.32,4.42,4.55,4.72,4.85,5.2,5.55,5.75,6.62,6.02],
	[769,4.3,4.42,4.52,4.65,4.75,4.95,5.2,5.72,6.08,6.72]
];
var chr19Cols = [
	[780,5.22,5.28,7.6],
	[788,4.35,4.6,4.72,4.82,4.95,5.42,5.62,5.98,6.0,6.38,6.42,6.78],
	[793,4.28,4.38,4.55,4.72,4.85,5.1,5.22,5.32,5.5,5.75,5.88,6.22,6.15,6.42,7.22,7.32,7.08],
	[798,4.38,4.55,4.72,4.85,5.0,5.6,5.78,6.02,6.25,6.42,7.12,7.78,8.72,9.68],
	[806,5.58],
	[812,5.6]
];
var chr20Cols = [
	[838,4.62,4.72,4.85,5.1,6.15,6.85],
	[846,4.3,4.42,4.72,5.15,5.62],
	[852,4.3,4.42,4.55,4.72,4.88,4.95,5.12,5.55,5.62,5.85,6.92,7.02,7.82,7.72,8.95,9.0,9.05],
	[860,4.55,4.62,4.72,5.12,5.22,5.38,5.58,6.0,6.12,6.62,6.85,7.25,7.42,7.6,7.82],
	[870,4.3,4.38,4.48,4.62,5.0,5.05,6.22,6.28,6.45],
	[878,4.3,4.38,4.55,4.85,5.08,5.22,5.42,5.62,5.72,6.22,6.28,6.5,8.8,9.35],
	[885,4.3,4.4,4.5,4.95,5.1,5.22,5.45,5.52,5.62,6.22,6.35,7.05,7.78,8.02],
	[893,4.3,4.38,4.48,4.92,5.05,5.1,5.42,5.55,5.68,6.15,6.45,6.55,7.15,8.0,9.6],
	[903,4.32,4.62,4.72,4.9,5.22,5.45,6.02,8.22],
	[912,4.3,4.45,4.62,4.72,4.92,5.05,5.28,5.62,6.2,6.32,7.02,8.55],
	[918,4.32,4.45,4.6,4.72,4.88,4.98,5.25,5.55,6.05,6.55,6.62,7.02,7.25,7.02],
	[925,4.38,4.55,4.7,4.85,5.05,5.15,5.4,5.6,6.02,6.55,7.42,7.02,6.62],
	[933,4.28,4.42,4.52,4.75,4.98,5.08,5.22,5.42,5.62,5.78,6.55,6.92,9.2],
	[940,4.3,4.5,4.78,4.92,5.05,5.42,5.55,6.0,6.62,7.35],
	[948,4.42,4.62,4.95,5.02,5.3,5.58,6.02,6.62,7.42]
];
var chr21Cols = [
	[997,4.28,4.38,4.62,4.72,5.55,5.65,5.8,6.0,6.25,7.85],
	[1002,4.3,4.38,4.55,4.65,5.02,5.22,5.42,5.85,6.1,6.22,6.42,6.62,7.8,7.72],
	[1008,4.32,4.42,4.55,4.68,4.85,4.98,5.12,5.25,5.5,5.7,5.98,6.18,6.4,6.6,6.75,7.8],
	[1015,4.38,4.62,4.92,5.22,5.42,5.65,6.18,6.42,6.5,7.82],
	[1020,4.4,5.12,5.35,6.38,6.5]
];
var chr22Cols = [
	[1042,4.28,4.4,4.55,4.75,5.42,5.62,5.62,6.15,7.45,7.7,7.95],
	[1048,4.3,4.42,4.6,4.72,4.98,5.12,5.28,5.42,5.65,5.78,6.0,6.05,7.05,6.72,6.82,7.6,7.95,7.92],
	[1054,4.3,4.38,4.52,4.62,4.85,4.98,5.2,5.35,5.5,5.62,5.75,6.1,6.38,6.72,6.8,7.62,8.42,8.72],
	[1060,4.32,4.42,4.55,4.7,4.78,4.85,5.0,5.28,5.45,5.68,5.82,6.32,6.65,8.05,8.42],
	[1066,4.28,4.38,4.5,4.62,4.72,4.85,5.0,5.25,5.38,5.52,5.7,6.35,6.62,7.42,7.2,8.1,8.25,8.1,8.95],
	[1072,4.3,4.42,4.55,4.72,4.82,4.92,5.02,5.18,5.4,5.62,5.75,6.3,6.15,6.82,7.02,7.42,7.22],
	[1082,4.35,4.5,4.62,4.75,4.85,5.0,5.22,5.6,5.65,6.15,6.88,7.0,7.05,7.25,7.42,8.75,8.82,9.05]
];
var chrXCols = [
	[1098,4.62,4.75,4.95,5.02,5.12,5.8,6.98,7.92,7.82,8.3],
	[1106,5.1,4.9,6.28],
	[1118,4.55,4.72,4.88,5.05,5.4,5.65,5.72,6.3,6.22,6.8],
	[1125,4.3,4.42,4.55,4.72,4.88,5.02,5.12,5.3,5.55,5.62,5.85,6.0,7.92,8.25],
	[1132,4.3,4.42,4.52,4.68,4.8,4.92,5.1,5.22,5.35,5.5,5.62,5.72,5.85,6.0,6.15,6.32],
	[1140,4.32,4.42,4.55,4.85,5.32,5.52,5.72,6.02,6.1,9.28,9.05],
	[1150,4.35,4.4,4.95,5.25,5.28,6.32,7.18,9.18],
	[1160,4.42,4.55],
	[1170,4.62,4.38,5.32,5.72,6.32,7.65,7.92,8.42],
	[1178,4.28,4.5,5.25,5.6,5.25,6.3,7.0,7.05,7.62,7.72,8.75,9.02,9.4,9.6],
	[1185,4.62,4.72,4.88,5.32,5.62,5.42,6.2,8.22,7.7],
	[1195,4.38],
	[1200,4.42,6.1,6.08],
	[1212,4.55,4.72,5.0,6.88],
	[1218,4.42,4.85,5.02,5.42,5.62,5.98],
	[1225,4.28,4.38,4.55,4.72,4.85,5.02,5.25,5.32,5.55,5.85,6.02,6.72,6.72],
	[1232,4.3,4.42,4.55,4.68,4.82,5.0,5.28,5.42,5.5,5.78,5.9,6.62,7.28,7.55,6.8],
	[1240,4.32,4.58,4.78,5.0,5.1,5.5,5.6,5.8,6.15,6.8,7.62],
	[1248,4.38,4.5,4.72,5.02,5.45,5.78,6.2,6.95],
	[1258,4.3,4.55,4.62,4.98,5.05,5.15,5.5,6.1,6.32,6.95,6.75,7.0],
	[1265,4.42,4.72,4.85,5.02,5.22,5.52,6.55,6.9,6.72,7.12,7.0],
	[1272,4.3,4.45,4.55,4.78],
	[1280,5.0,6.5],
	[1288,4.42,4.55,7.32,6.5],
	[1297,4.55,7.1]
];

var chrCols = [chr1Cols,chr2Cols,chr3Cols,chr4Cols,chr5Cols,chr6Cols,chr7Cols,chr8Cols,chr9Cols,chr10Cols,chr11Cols,chr12Cols,chr13Cols,chr14Cols,chr15Cols,chr16Cols,chr17Cols,chr18Cols,chr19Cols,chr20Cols,chr21Cols,chr22Cols,chrXCols,[]];

// first and second legend rows hold the first 15 and the last 9 names
var legendRow1 = [79,173.5,269,364,459,555,650,745,840,935,1043,1151,1260,1368,1476];
var legendRow2 = [79,187,295,403,511,619,727,835,929];

var width = 1592;
var height = 880;

var svg = d3.select("#chart")
	.append("svg")
	.attr("width", width)
	.attr("height", height);

// grey panel behind title and plot
svg.append("rect")
	.attr("x", 70).attr("y", 6)
	.attr("width", width - 70).attr("height", 800)
	.attr("fill", "#f3f2f0");

svg.append("rect")
	.attr("x", 148).attr("y", 60)
	.attr("width", width - 148).attr("height", 736)
	.attr("fill", "#fff");

var xScale = d3.scaleLinear().domain([0, genomeLength]).range([130, 1592]);
var yScale = d3.scaleLinear().domain([3.7, 16.67]).range([796, 59]);

// gridlines
svg.append("g").selectAll("line")
	.data(yTicks)
	.enter()
	.append("line")
	.attr("x1", 150).attr("x2", width)
	.attr("y1", function(d){ return yScale(d); })
	.attr("y2", function(d){ return yScale(d); })
	.attr("stroke", "#bdbdbd")
	.attr("stroke-width", 1.4)
	.attr("stroke-dasharray", "2.5 3.5");

// small points
var points = [];
chrCols.forEach(function(cols, i){
	cols.forEach(function(col){
		col.slice(1).forEach(function(v){
			points.push({chr: i, pos: chrOffset[i] + col[0], val: v});
		});
	});
});

svg.append("g").selectAll("rect")
	.data(points)
	.enter()
	.append("rect")
	.attr("x", function(d){ return Math.round(xScale(d.pos)) - 1.5; })
	.attr("y", function(d){ return Math.round(yScale(d.val)) - 1.5; })
	.attr("width", 3).attr("height", 3)
	.attr("fill", function(d){ return chrColors[d.chr]; });

// threshold line
svg.append("line")
	.attr("x1", 148).attr("x2", width)
	.attr("y1", yScale(threshold)).attr("y2", yScale(threshold))
	.attr("stroke", "#ff2b2b")
	.attr("stroke-width", 2.5);

svg.append("g").selectAll("rect")
	.data(topHits)
	.enter()
	.append("rect")
	.attr("x", function(d){ return xScale(d[1]) - 3; })
	.attr("y", function(d){ return yScale(d[2]) - 3; })
	.attr("width", 6).attr("height", 6)
	.attr("fill", function(d){ return chrColors[d[0]]; });

// plot frame
svg.append("line").attr("x1", 147).attr("x2", width).attr("y1", 59).attr("y2", 59)
	.attr("stroke", "#8f8f8f").attr("stroke-width", 2.5);
svg.append("line").attr("x1", 147).attr("x2", width).attr("y1", 796).attr("y2", 796)
	.attr("stroke", "#8f8f8f").attr("stroke-width", 2);

// y axis
var yAxis = d3.axisLeft(yScale).tickValues(yTicks).tickSize(5).tickPadding(4);
var axisG = svg.append("g")
	.attr("transform", "translate(146.5,0)")
	.call(yAxis);
axisG.select(".domain").attr("stroke", "#858585").attr("stroke-width", 3.5);
axisG.selectAll(".tick line").attr("stroke", "#777");
axisG.selectAll("text")
	.attr("font-family", "'DejaVu Sans Condensed','DejaVu Sans',sans-serif")
	.attr("font-size", 18)
	.attr("fill", "#111");

svg.append("text")
	.attr("transform", "translate(105,440) rotate(-90)")
	.attr("text-anchor", "middle")
	.attr("font-family", "'DejaVu Sans Condensed','DejaVu Sans',sans-serif")
	.attr("font-size", 19)
	.attr("textLength", 145)
	.attr("lengthAdjust", "spacingAndGlyphs")
	.text("-log10(UNADJ)");

svg.append("text")
	.attr("x", 842).attr("y", 40)
	.attr("text-anchor", "middle")
	.attr("font-family", "'DejaVu Sans',sans-serif")
	.attr("font-weight", "bold")
	.attr("font-size", 29)
	.text("AHP Results");

svg.append("text")
	.attr("transform", "translate(14,566) rotate(90)")
	.attr("text-anchor", "middle")
	.attr("font-family", "'Liberation Serif',serif")
	.attr("font-size", 28)
	.text("51");

// legend box, runs off the page at right and bottom
svg.append("rect")
	.attr("x", 72).attr("y", 806)
	.attr("width", width).attr("height", 100)
	.attr("fill", "#fff")
	.attr("stroke", "#111")
	.attr("stroke-width", 2);

function drawLegendRow(names, colors, xs, yc){
	var row = svg.append("g").selectAll("g")
		.data(names)
		.enter()
		.append("g")
		.attr("transform", function(d, i){ return "translate(" + xs[i] + "," + yc + ")"; });
	row.append("rect")
		.attr("x", 0).attr("y", -5)
		.attr("width", 33).attr("height", 11)
		.attr("fill", function(d, i){ return colors[i]; })
		.attr("stroke", "#9a9a9a")
		.attr("stroke-width", 1.5);
	row.append("text")
		.attr("x", 38).attr("y", 6)
		.attr("font-family", "'DejaVu Sans Condensed','DejaVu Sans',sans-serif")
		.attr("font-size", 21)
		.text(function(d){ return d; });
}

drawLegendRow(chrNames.slice(0, 15), chrColors.slice(0, 15), legendRow1, 828);
drawLegendRow(chrNames.slice(15), chrColors.slice(15), legendRow2, 867);

</script>
</body>
</html>
